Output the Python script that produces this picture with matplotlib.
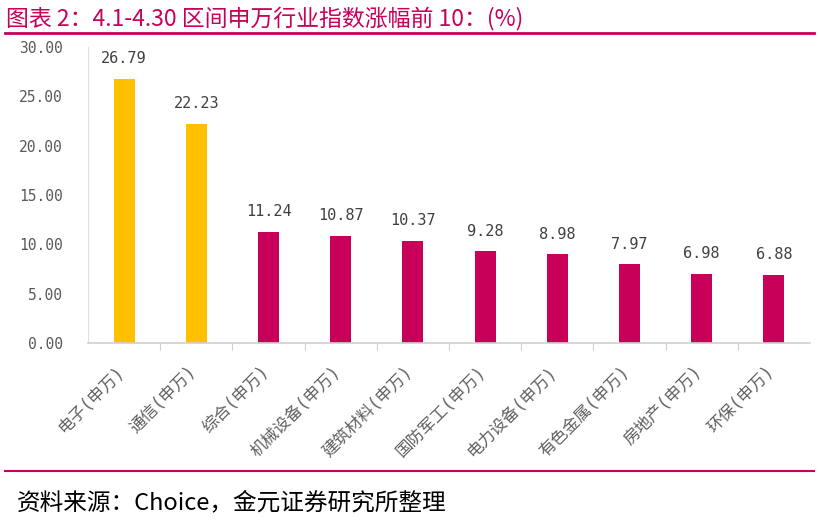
import matplotlib
matplotlib.use("Agg")
import matplotlib.pyplot as plt
from matplotlib.lines import Line2D

# latin glyphs from a mono face (wide like the original), CJK falls back to Noto
fonts = ['DejaVu Sans Mono', 'Noto Sans CJK SC']
cjk = ['Noto Sans CJK SC', 'DejaVu Sans']
plt.rcParams['font.family'] = fonts

# data
industries = ['电子(申万)', '通信(申万)', '综合(申万)', '机械设备(申万)', '建筑材料(申万)',
              '国防军工(申万)', '电力设备(申万)', '有色金属(申万)', '房地产(申万)', '环保(申万)']
changes = [26.79, 22.23, 11.24, 10.87, 10.37, 9.28, 8.98, 7.97, 6.98, 6.88]
highlight = [True, True, False, False, False, False, False, False, False, False]
yticks = [0, 5, 10, 15, 20, 25, 30]

title = '图表 2：4.1-4.30 区间申万行业指数涨幅前 10：(%)'
source = '资料来源：Choice，金元证券研究所整理'

yellow = '#FFC000'
magenta = '#C8005A'

W, H = 819, 521
fig = plt.figure(figsize=(W / 100, H / 100), dpi=100)

# axes box in pixels: left 88, right 810, top 47 (y=30), bottom 343 (y=0)
ax = fig.add_axes([88 / W, 1 - 343 / H, (810 - 88) / W, (343 - 47) / H])

x = list(range(len(industries)))
colors = [yellow if h else magenta for h in highlight]
ax.bar(x, changes, width=0.29, color=colors, zorder=2)

for xi, v in zip(x, changes):
    ax.text(xi, v + 1.3, f'{v:.2f}', ha='center', va='bottom', fontsize=11, color='#404040')

ax.set_xlim(-0.5, len(industries) - 0.5)
ax.set_ylim(0, 30)
ax.set_yticks(yticks)
ax.set_yticklabels([f'{t:.2f}' for t in yticks], fontsize=10.5, color='#595959')
ax.tick_params(axis='y', length=0, pad=18)

# category boundary ticks
ax.set_xticks([i + 0.5 for i in x[:-1]])
ax.set_xticklabels([])
ax.tick_params(axis='x', length=5, color='#D0D0D0', direction='out')
for xi, lab in zip(x, industries):
    ax.text(xi - 0.12, -2.0, lab, rotation=45, ha='right', va='top',
            rotation_mode='anchor', fontsize=12, color='#606060')

for s in ['top', 'right']:
    ax.spines[s].set_visible(False)
ax.spines['left'].set_color('#E0E0E0')
ax.spines['bottom'].set_color('#D0D0D0')
ax.spines['bottom'].set_linewidth(1.2)

# title, rules and source
fig.text(6 / W, 1 - 18 / H, title, fontsize=16.5, color=magenta, va='center', ha='left',
         family=cjk)
fig.add_artist(Line2D([5 / W, 814 / W], [1 - 33 / H, 1 - 33 / H], color=magenta, lw=2))
fig.add_artist(Line2D([5 / W, 814 / W], [1 - 471 / H, 1 - 471 / H], color=magenta, lw=1.5))
fig.text(17 / W, 1 - 503 / H, source, fontsize=17, color='black', va='center', ha='left',
         family=cjk)

fig.savefig('out.png', dpi=100)
